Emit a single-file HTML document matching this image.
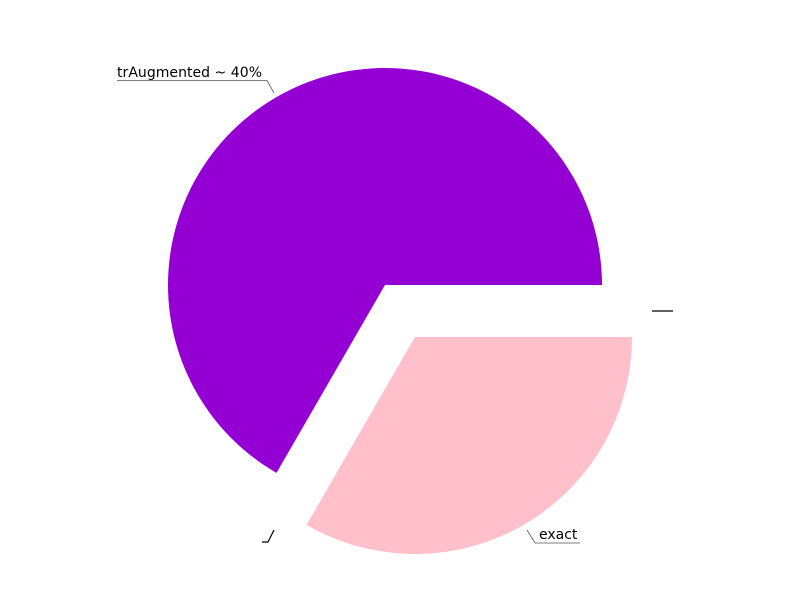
<!DOCTYPE html>
<html><head><meta charset="utf-8"><style>body{margin:0;background:#fff}svg{display:block;font-family:"DejaVu Sans","Liberation Sans",sans-serif}</style></head>
<body>
<svg id="chart" width="800" height="600" viewBox="0 0 800 600">
<rect width="800" height="600" fill="#fff"/>
<g id="slices"></g>
<g id="labels" font-size="14" fill="#000">
<text x="117" y="77" textLength="145">trAugmented ~ 40%</text>
<path d="M117 80.5H267L274 93" stroke="#555" stroke-width="0.8" fill="none"/>
<text x="539" y="539">exact</text>
<path d="M527 530L535 543H580" stroke="#555" stroke-width="0.8" fill="none"/>
<path d="M652 311H673" stroke="#000" stroke-width="1.2" fill="none"/>
<path d="M274 530L268 542H262" stroke="#000" stroke-width="1.2" fill="none"/>
</g>
</svg>
<script>
const categories = ["trAugmented", "exact"];
const values = [2, 1];
const colors = ["#9400d3", "#ffc0cb"];
const explode = [0, 60];
const cx = 385, cy = 285, r = 217;
const g = document.getElementById('slices');
const total = values.reduce((a, b) => a + b, 0);
let start = 0;
values.forEach((v, i) => {
  const sweep = v / total * 2 * Math.PI;
  const mid = start + sweep / 2;
  const ox = cx + explode[i] * Math.cos(mid), oy = cy - explode[i] * Math.sin(mid);
  const x1 = ox + r * Math.cos(start), y1 = oy - r * Math.sin(start);
  const x2 = ox + r * Math.cos(start + sweep), y2 = oy - r * Math.sin(start + sweep);
  const large = sweep > Math.PI ? 1 : 0;
  const p = document.createElementNS('http://www.w3.org/2000/svg', 'path');
  p.setAttribute('d', `M${ox} ${oy}L${x1} ${y1}A${r} ${r} 0 ${large} 0 ${x2} ${y2}Z`);
  p.setAttribute('fill', colors[i]);
  
  
  g.appendChild(p);
  start += sweep;
});
</script>
</body></html>
